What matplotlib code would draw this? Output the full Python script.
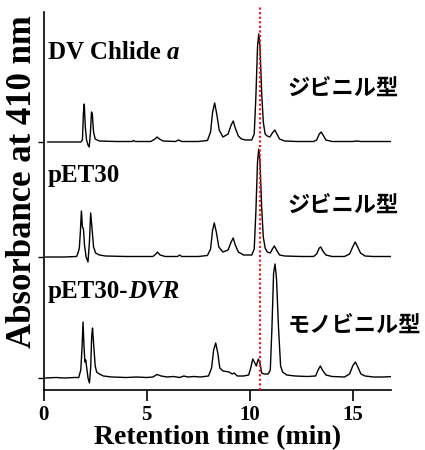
import numpy as np
import matplotlib
matplotlib.use("Agg")
import matplotlib.pyplot as plt

plt.rcParams['font.family'] = ['Liberation Serif', 'DejaVu Serif']
plt.rcParams['font.weight'] = 'bold'

# HPLC traces, retention time (min) vs absorbance above each baseline (a.u.)
dv_time = [0.2, 1.0, 1.8, 1.88, 1.93, 1.97, 2.02, 2.08, 2.15, 2.21, 2.27, 2.32, 2.36, 2.42, 2.5, 2.7,
           3.5, 4.3, 4.35, 4.45, 5.2, 5.4, 5.5, 5.62, 5.8, 6.4, 6.55, 6.7, 7.5, 7.95, 8.1, 8.2, 8.3,
           8.4, 8.52, 8.7, 8.95, 9.1, 9.2, 9.3, 9.45, 9.6, 9.8, 10.1, 10.22, 10.3, 10.38, 10.44, 10.5,
           10.58, 10.66, 10.75, 10.85, 10.98, 11.1, 11.22, 11.32, 11.45, 11.7, 12.3, 13.1, 13.25, 13.38,
           13.47, 13.56, 13.7, 14.0, 15.0, 15.2, 15.4, 16.0, 16.94]
dv_abs = [0, 0, 0, 2, 30, 38, 15, 2, -3, -5, 10, 30, 28, 10, 3, 1,
          0.5, 0.5, 1.5, 0.5, 0.5, 3, 5, 3, 1, 0.5, 2, 0.5, 0.5, 1.5, 10, 30, 39,
          28, 12, 5, 8, 17, 21, 14, 6, 3, 2, 2, 8, 45, 95, 108, 95,
          50, 20, 8, 6, 5, 9, 12, 8, 3, 1, 0.5, 0.5, 2, 8,
          10, 7, 2, 0.5, 0.5, 1, 0.5, 0.5, 0.5]

pet_time = [0.1, 1.0, 1.6, 1.68, 1.73, 1.78, 1.83, 1.88, 1.93, 1.98, 2.06, 2.15, 2.22, 2.28, 2.34, 2.42,
            2.52, 2.7, 3.0, 4.0, 5.3, 5.45, 5.52, 5.65, 5.9, 6.5, 6.6, 6.7, 7.5, 7.95, 8.1, 8.2, 8.28,
            8.38, 8.5, 8.7, 8.95, 9.1, 9.2, 9.3, 9.45, 9.7, 10.1, 10.22, 10.3, 10.38, 10.44, 10.5, 10.58,
            10.66, 10.75, 10.85, 11.0, 11.1, 11.2, 11.3, 11.45, 11.7, 12.5, 13.1, 13.25, 13.38, 13.45,
            13.55, 13.7, 14.0, 14.6, 14.85, 15.0, 15.12, 15.22, 15.38, 15.6, 16.0, 16.94]
pet_abs = [0, 0, 0.5, 5, 9, 25, 46, 30, 28, 12, 0, -5, 15, 44, 30, 10,
           4, 2, 1, 0.5, 0.5, 3, 5, 2, 0.5, 0.5, 2, 0.5, 0.5, 1.5, 8, 27, 34,
           25, 10, 5, 7, 15, 19, 12, 5, 2, 2, 8, 45, 95, 108, 95, 50,
           20, 9, 5, 4, 8, 11, 7, 2, 1, 0.5, 0.5, 3, 9, 10,
           6, 2, 0.5, 0.5, 3, 10, 15, 11, 4, 1, 0.5, 0.5]

dvr_time = [0.1, 0.6, 1.0, 1.5, 1.7, 1.8, 1.86, 1.91, 1.96, 2.0, 2.04, 2.09, 2.15, 2.22, 2.28, 2.33,
            2.37, 2.42, 2.5, 2.57, 2.7, 2.9, 3.3, 4.0, 4.5, 5.0, 5.3, 5.5, 5.7, 6.0, 6.3, 6.6, 6.8,
            7.0, 7.3, 7.6, 8.0, 8.15, 8.25, 8.35, 8.45, 8.55, 8.7, 9.0, 9.15, 9.25, 9.4, 9.7, 9.95,
            10.05, 10.15, 10.25, 10.32, 10.42, 10.5, 10.58, 10.7, 10.9, 11.0, 11.08, 11.16, 11.23, 11.3,
            11.4, 11.5, 11.6, 11.8, 12.2, 12.8, 13.2, 13.32, 13.43, 13.53, 13.7, 14.0, 14.6, 14.85,
            15.0, 15.13, 15.25, 15.4, 15.6, 16.0, 16.5, 16.94]
dvr_abs = [0, 0.5, 0, 0.5, 0.5, 8, 30, 56, 30, 16, 18, 10, 0, -5, 10, 42,
           50, 35, 12, 6, 4, 2, 1, 0.5, 1, 0.5, 1, 3.5, 2, 1, 1.5, 0.5, 2,
           1, 1.5, 1, 2, 10, 28, 35, 25, 10, 7, 6, 4, 5, 2, 2, 3,
           10, 19, 15, 12, 19, 15, 5, 4, 4, 8, 50, 105, 114, 100,
           50, 12, 6, 3, 2, 1.5, 2, 8, 12, 8, 3, 1.5, 1, 4,
           12, 16, 11, 4, 2, 1, 1, 1.5]

sample_names = [("DV Chlide ", "a"), ("pET30", ""), ("pET30-", "DVR")]
type_labels = ["ジビニル型", "ジビニル型", "モノビニル型"]
marker_time = 10.5

traces = [(dv_time, dv_abs), (pet_time, pet_abs), (dvr_time, dvr_abs)]
offsets = [248, 133, 12]
name_y = [331, 208, 92]
type_y = [302, 185, 65]

fig = plt.figure(figsize=(4.25, 4.5), dpi=100)
ax = fig.add_axes([43.7 / 425, 60 / 450, 347.3 / 425, 378 / 450])

for (t, a), off in zip(traces, offsets):
    ax.plot(t, np.array(a) + off, color='black', lw=1.0)

ax.plot([marker_time, marker_time], [0, 384], color='#ff1010', lw=1.5,
        ls=(0, (1, 1.2)), clip_on=False, zorder=3)

for (plain, ital), ny, lab, ty in zip(sample_names, name_y, type_labels, type_y):
    t = ax.text(0.21, ny, plain, fontsize=18, fontweight='bold', va='baseline')
    if ital:
        ax.annotate(ital, xy=(1, 0), xycoords=t, va='bottom', ha='left',
                    fontsize=18, fontweight='bold', fontstyle='italic')
    ax.text(11.82, ty, lab, fontsize=16, fontweight='bold', va='center',
            family=['Noto Sans CJK JP', 'DejaVu Sans'], clip_on=False)

ax.set_xlim(0, 16.86)
ax.set_ylim(0, 378)
ax.set_xticks([0, 5, 10, 15])
ax.set_yticks(offsets)
ax.set_yticklabels([])
ax.tick_params(axis='x', direction='out', length=8, width=1.2, labelsize=15, pad=3)
ax.tick_params(axis='y', direction='out', length=4, width=1.0)
for s in ['top', 'right']:
    ax.spines[s].set_visible(False)
for s in ['left', 'bottom']:
    ax.spines[s].set_linewidth(1.2)

ax.set_xlabel('Retention time (min)', fontsize=20, fontweight='bold', labelpad=0)
fig.text(22.5 / 425, 1 - 181.5 / 450, 'Absorbance at 410 nm', rotation=90,
         ha='center', va='center', fontsize=25, fontweight='bold')

plt.savefig('out.png', dpi=100)
